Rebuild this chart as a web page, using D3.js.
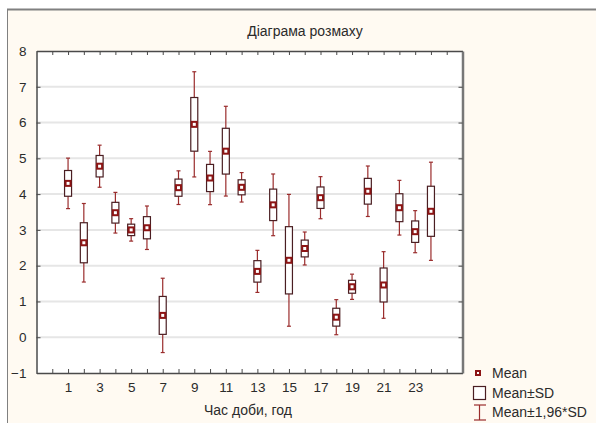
<!DOCTYPE html>
<html>
<head>
<meta charset="utf-8">
<script src="https://cdn.jsdelivr.net/npm/d3@7"></script>
<style>
  html, body { margin: 0; padding: 0; background: #fff; }
  svg text { font-family: "Liberation Sans", Arial, sans-serif; fill: #2b2b2b; }
</style>
</head>
<body>
<svg id="chart" width="596" height="423"></svg>
<script>
// hours of the day and the values
var hours = [1, 2, 3, 4, 5, 6, 7, 8, 9, 10, 11, 12, 13, 14, 15, 16, 17, 18, 19, 20, 21, 22, 23, 24];
var means = [4.30, 2.64, 4.78, 3.48, 3.00, 3.06, 0.61, 4.18, 5.95, 4.45, 5.20, 4.19,
             1.84, 3.70, 2.15, 2.48, 3.90, 0.56, 1.41, 4.08, 1.46, 3.62, 2.95, 3.52];
var sds   = [0.36, 0.56, 0.30, 0.29, 0.16, 0.31, 0.53, 0.24, 0.75, 0.38, 0.64, 0.21,
             0.30, 0.44, 0.94, 0.235, 0.30, 0.25, 0.18, 0.36, 0.475, 0.39, 0.30, 0.70];
var yTicks = [-1, 0, 1, 2, 3, 4, 5, 6, 7, 8];
var xLabelTicks = [1, 3, 5, 7, 9, 11, 13, 15, 17, 19, 21, 23];
var legendItems = ["Mean", "Mean\u00b1SD", "Mean\u00b11,96*SD"];
var title = "\u0414\u0456\u0430\u0433\u0440\u0430\u043c\u0430 \u0440\u043e\u0437\u043c\u0430\u0445\u0443";
var xTitle = "\u0427\u0430\u0441 \u0434\u043e\u0431\u0438, \u0433\u043e\u0434";

var svg = d3.select("#chart");
var markColor = "#8c1414", whiskerColor = "#9a2c2c", boxColor = "#4a1e22";

// outer panel
svg.append("rect").attr("x", 7).attr("y", 9).attr("width", 596).attr("height", 423)
  .attr("fill", "#fffaf2");
svg.append("line").attr("x1", 7).attr("x2", 596).attr("y1", 9.5).attr("y2", 9.5)
  .attr("stroke", "#808080").attr("stroke-width", 2);
svg.append("line").attr("x1", 7.5).attr("x2", 7.5).attr("y1", 9).attr("y2", 423)
  .attr("stroke", "#808080").attr("stroke-width", 1);

var x = d3.scaleLinear().domain([-1, 26]).range([36.5, 462.5]);
var y = d3.scaleLinear().domain([-1, 8]).range([373, 51]);

// plot area
svg.append("rect").attr("x", x(-1)).attr("y", y(8))
  .attr("width", x(26) - x(-1)).attr("height", y(-1) - y(8)).attr("fill", "#fff");

// grid
svg.append("g").selectAll("line").data(yTicks.slice(1, -1)).enter().append("line")
  .attr("x1", x(-1)).attr("x2", x(26))
  .attr("y1", function(d) { return y(d); }).attr("y2", function(d) { return y(d); })
  .attr("stroke", "#e6e6e6").attr("stroke-width", 2);

// axes, ticks pointing inwards
var allX = d3.range(0, 26);
var xb = svg.append("g").attr("transform", "translate(0," + y(-1) + ")")
  .call(d3.axisBottom(x).tickValues(allX).tickSizeInner(-4).tickSizeOuter(0)
    .tickFormat(function(d) { return xLabelTicks.indexOf(d) >= 0 ? d : ""; }).tickPadding(9));
var xt = svg.append("g").attr("transform", "translate(0," + y(8) + ")")
  .call(d3.axisTop(x).tickValues(allX).tickSizeInner(-4).tickSizeOuter(0).tickFormat(""));
var yl = svg.append("g").attr("transform", "translate(" + x(-1) + ",0)")
  .call(d3.axisLeft(y).tickValues(yTicks).tickSizeInner(-4).tickSizeOuter(0).tickPadding(10));
var yr = svg.append("g").attr("transform", "translate(" + x(26) + ",0)")
  .call(d3.axisRight(y).tickValues(yTicks).tickSizeInner(-4).tickSizeOuter(0).tickFormat(""));

[xb, xt, yl, yr].forEach(function(g) {
  g.selectAll(".domain").attr("stroke", "#4a4a4a").attr("stroke-width", 1.5);
  g.selectAll(".tick line").attr("stroke", "#4a4a4a");
  g.selectAll("text").attr("font-size", 13.5).attr("fill", "#2b2b2b")
    .style("font-family", "Liberation Sans, Arial, sans-serif");
});
yr.selectAll(".domain").attr("stroke", "#777").attr("stroke-width", 2.5);

// whiskers
var bw = 7, cap = 4;
var series = hours.map(function(h, i) { return {h: h, m: means[i], s: sds[i]}; });
var g = svg.append("g");
var wh = g.selectAll(".wh").data(series).enter().append("g");
wh.append("line")
  .attr("x1", function(d) { return x(d.h); }).attr("x2", function(d) { return x(d.h); })
  .attr("y1", function(d) { return y(d.m + 1.96 * d.s); })
  .attr("y2", function(d) { return y(d.m - 1.96 * d.s); })
  .attr("stroke", whiskerColor).attr("stroke-width", 1.2);
[1, -1].forEach(function(k) {
  wh.append("line")
    .attr("x1", function(d) { return x(d.h) - cap / 2; })
    .attr("x2", function(d) { return x(d.h) + cap / 2; })
    .attr("y1", function(d) { return y(d.m + k * 1.96 * d.s); })
    .attr("y2", function(d) { return y(d.m + k * 1.96 * d.s); })
    .attr("stroke", whiskerColor).attr("stroke-width", 1.2);
});

// boxes mean +- SD
g.selectAll(".box").data(series).enter().append("rect")
  .attr("x", function(d) { return x(d.h) - bw / 2; })
  .attr("y", function(d) { return y(d.m + d.s); })
  .attr("width", bw)
  .attr("height", function(d) { return y(d.m - d.s) - y(d.m + d.s); })
  .attr("fill", "#fff").attr("stroke", boxColor).attr("stroke-width", 1.2);

// mean markers
g.selectAll(".mean").data(series).enter().append("rect")
  .attr("x", function(d) { return x(d.h) - 2.5; })
  .attr("y", function(d) { return y(d.m) - 2.5; })
  .attr("width", 5).attr("height", 5)
  .attr("fill", "#fff").attr("stroke", markColor).attr("stroke-width", 2);

// titles
svg.append("text").attr("x", 305).attr("y", 36).attr("text-anchor", "middle")
  .attr("font-size", 14).text(title);
svg.append("text").attr("x", 248).attr("y", 415).attr("text-anchor", "middle")
  .attr("font-size", 14).text(xTitle);

// legend
var lg = svg.append("g");
lg.append("rect").attr("x", 476).attr("y", 371).attr("width", 4).attr("height", 4)
  .attr("fill", "#fff").attr("stroke", markColor).attr("stroke-width", 2);
lg.append("rect").attr("x", 473.5).attr("y", 386.5).attr("width", 12).attr("height", 13)
  .attr("fill", "#fff").attr("stroke", boxColor).attr("stroke-width", 1.2);
lg.append("line").attr("x1", 479.5).attr("x2", 479.5).attr("y1", 405).attr("y2", 420)
  .attr("stroke", whiskerColor).attr("stroke-width", 1.2);
lg.append("line").attr("x1", 474).attr("x2", 486).attr("y1", 405).attr("y2", 405)
  .attr("stroke", whiskerColor).attr("stroke-width", 1.2);
lg.append("line").attr("x1", 474).attr("x2", 486).attr("y1", 420).attr("y2", 420)
  .attr("stroke", whiskerColor).attr("stroke-width", 1.2);
lg.selectAll(".lt").data(legendItems).enter().append("text")
  .attr("x", 492).attr("y", function(d, i) { return 378 + i * 19.5; })
  .attr("font-size", 14).text(function(d) { return d; });
</script>
</body>
</html>
